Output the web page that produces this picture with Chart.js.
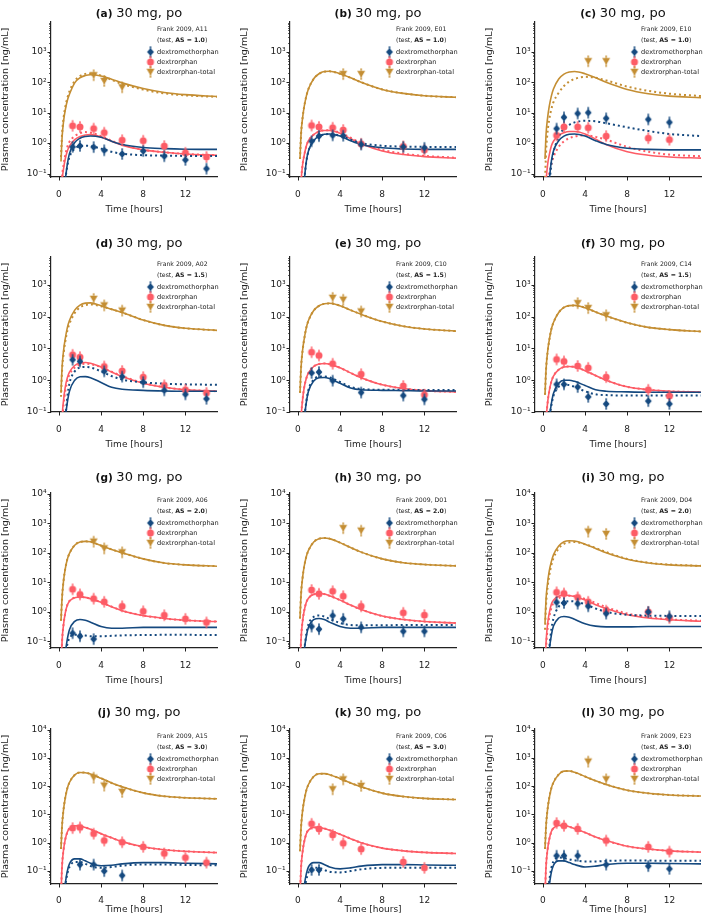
<!DOCTYPE html>
<html>
<head>
<meta charset="utf-8">
<script src="https://cdn.jsdelivr.net/npm/chart.js@4.4.1/dist/chart.umd.min.js"></script>
<style>
  html, body { margin: 0; padding: 0; background: #fff; }
  body { width: 709px; height: 918px; position: relative; overflow: hidden; }
  canvas { position: absolute; }
</style>
</head>
<body>
<script>
// panels and labels
const panelIds = ["a", "b", "c", "d", "e", "f", "g", "h", "i", "j", "k", "l"];
const subjectIds = ["A11", "E01", "E10", "A02", "C10", "C14", "A06", "D01", "D04", "A15", "C06", "E23"];
const activityScores = ["1.0", "1.0", "1.0", "1.5", "1.5", "1.5", "2.0", "2.0", "2.0", "3.0", "3.0", "3.0"];
const doseLabel = "30 mg, po";
const seriesNames = ["dextromethorphan", "dextrorphan", "dextrorphan-total"];

// axes
const xTickValues = [0, 4, 8, 12];
const yLimitsByRow = [[0.077, 9500], [0.1, 7500], [0.06, 10500], [0.035, 10500]];

// simulation time grid [h] and sampling times [h]
const simTime = [0.2, 0.3, 0.45, 0.6, 0.8, 1, 1.5, 2, 2.5, 3, 4, 5, 6, 8, 10, 12, 15];
const obsTime = [1.3, 2, 3.3, 4.3, 6, 8, 10, 12, 14];

// dextrorphan-total, model (solid) and alternative model (dotted), one row per panel
const totSim = [
    [0.25, 1.5, 5.5, 12, 25, 40, 95, 140, 165, 175, 160, 125, 95, 62, 46, 39, 34],
    [0.3, 2, 7, 16, 35, 60, 130, 190, 225, 230, 190, 140, 100, 58, 43, 36, 32],
    [0.3, 2, 7, 16, 35, 60, 128, 185, 218, 225, 190, 140, 100, 58, 42, 35, 31],
    [0.4, 2.5, 9, 20, 45, 75, 160, 230, 265, 270, 220, 170, 135, 78, 53, 43, 37],
    [0.4, 2.5, 9, 20, 45, 75, 155, 220, 255, 262, 220, 160, 118, 70, 50, 41, 35],
    [0.35, 2.2, 8, 18, 40, 65, 135, 195, 222, 225, 190, 140, 105, 64, 46, 39, 34],
    [0.5, 3, 12, 28, 60, 95, 180, 230, 242, 235, 175, 130, 100, 62, 45, 39, 35],
    [0.6, 4, 15, 35, 75, 120, 230, 300, 315, 300, 220, 150, 105, 62, 46, 40, 36],
    [0.4, 2.8, 10, 24, 50, 85, 170, 235, 255, 250, 195, 140, 100, 60, 45, 39, 36],
    [0.6, 4, 16, 38, 85, 135, 250, 305, 300, 270, 190, 130, 95, 58, 44, 39, 36],
    [0.5, 3.5, 14, 32, 72, 115, 220, 275, 278, 255, 185, 130, 95, 57, 43, 37, 34],
    [0.6, 4, 16, 38, 85, 135, 260, 340, 345, 310, 220, 155, 115, 72, 56, 49, 45]
];
const totAlt = [
    [0.35, 2, 7, 15, 30, 50, 110, 160, 188, 195, 165, 120, 88, 57, 43, 37, 33],
    [0.3, 2, 7, 16, 35, 60, 128, 188, 222, 228, 190, 140, 100, 58, 43, 36, 32],
    [0.05, 0.5, 2.5, 6, 13, 22, 45, 75, 105, 128, 150, 140, 115, 72, 52, 42, 35],
    [0.3, 2, 7, 16, 36, 60, 130, 195, 230, 242, 212, 170, 135, 78, 53, 43, 37],
    [0.4, 2.5, 9, 20, 45, 75, 155, 218, 252, 260, 220, 160, 118, 70, 50, 41, 35],
    [0.35, 2.2, 8, 18, 40, 65, 135, 195, 220, 224, 190, 140, 105, 64, 46, 39, 34],
    [0.5, 3, 12, 28, 60, 95, 182, 232, 243, 235, 175, 130, 100, 62, 45, 39, 35],
    [0.6, 4, 15, 35, 75, 120, 230, 300, 315, 300, 220, 150, 105, 62, 46, 40, 36],
    [0.25, 1.8, 7, 17, 38, 65, 140, 200, 225, 230, 195, 145, 105, 62, 46, 40, 36],
    [0.6, 4, 16, 38, 85, 135, 250, 305, 300, 270, 190, 130, 95, 58, 44, 39, 36],
    [0.5, 3.5, 14, 32, 72, 115, 220, 275, 278, 255, 185, 130, 95, 57, 43, 37, 34],
    [0.6, 4, 16, 38, 85, 135, 260, 340, 345, 310, 220, 155, 115, 72, 56, 49, 45]
];

// dextromethorphan
const dxmSim = [
    [0.001, 0.003, 0.02, 0.06, 0.2, 0.45, 1.05, 1.45, 1.65, 1.72, 1.55, 1.15, 0.9, 0.72, 0.66, 0.63, 0.62],
    [0.001, 0.003, 0.02, 0.06, 0.25, 0.55, 1.2, 1.7, 1.95, 2.0, 1.7, 1.2, 0.9, 0.7, 0.64, 0.62, 0.62],
    [0.001, 0.003, 0.02, 0.06, 0.25, 0.55, 1.2, 1.7, 1.95, 2.0, 1.7, 1.2, 0.9, 0.68, 0.62, 0.6, 0.6],
    [0.001, 0.003, 0.02, 0.06, 0.2, 0.45, 1.0, 1.28, 1.3, 1.2, 0.85, 0.6, 0.52, 0.48, 0.46, 0.45, 0.45],
    [0.001, 0.003, 0.02, 0.06, 0.2, 0.45, 0.95, 1.2, 1.22, 1.12, 0.8, 0.57, 0.5, 0.48, 0.47, 0.46, 0.46],
    [0.001, 0.003, 0.02, 0.06, 0.18, 0.38, 0.8, 1.0, 1.0, 0.92, 0.68, 0.5, 0.45, 0.43, 0.42, 0.42, 0.42],
    [0.001, 0.003, 0.015, 0.04, 0.12, 0.25, 0.48, 0.55, 0.52, 0.45, 0.32, 0.28, 0.28, 0.3, 0.3, 0.3, 0.3],
    [0.001, 0.003, 0.015, 0.05, 0.15, 0.3, 0.55, 0.6, 0.55, 0.45, 0.32, 0.28, 0.28, 0.3, 0.3, 0.3, 0.3],
    [0.001, 0.003, 0.015, 0.05, 0.16, 0.33, 0.62, 0.7, 0.66, 0.56, 0.4, 0.33, 0.31, 0.31, 0.32, 0.32, 0.32],
    [0.001, 0.003, 0.012, 0.035, 0.1, 0.18, 0.27, 0.27, 0.23, 0.19, 0.155, 0.16, 0.18, 0.2, 0.2, 0.19, 0.18],
    [0.001, 0.003, 0.01, 0.03, 0.08, 0.14, 0.2, 0.2, 0.17, 0.14, 0.12, 0.13, 0.15, 0.17, 0.17, 0.165, 0.16],
    [0.001, 0.003, 0.01, 0.03, 0.09, 0.16, 0.23, 0.23, 0.2, 0.17, 0.14, 0.15, 0.17, 0.19, 0.19, 0.185, 0.18]
];
const dxmAlt = [
    [0.001, 0.003, 0.02, 0.06, 0.18, 0.35, 0.65, 0.8, 0.82, 0.8, 0.66, 0.52, 0.45, 0.4, 0.39, 0.38, 0.38],
    [0.001, 0.003, 0.02, 0.06, 0.25, 0.55, 1.2, 1.68, 1.92, 1.98, 1.75, 1.3, 1.0, 0.82, 0.77, 0.75, 0.74],
    [0.001, 0.002, 0.01, 0.04, 0.2, 0.5, 1.6, 3.0, 4.0, 4.8, 5.4, 5.2, 4.5, 3.3, 2.5, 2.0, 1.7],
    [0.001, 0.003, 0.02, 0.06, 0.3, 0.8, 1.9, 2.5, 2.6, 2.5, 1.9, 1.35, 1.05, 0.85, 0.78, 0.74, 0.72],
    [0.001, 0.003, 0.02, 0.06, 0.22, 0.5, 1.05, 1.3, 1.32, 1.22, 0.88, 0.62, 0.53, 0.5, 0.5, 0.49, 0.49],
    [0.001, 0.003, 0.02, 0.06, 0.16, 0.32, 0.62, 0.72, 0.7, 0.62, 0.45, 0.36, 0.34, 0.33, 0.33, 0.33, 0.33],
    [0.001, 0.003, 0.01, 0.03, 0.08, 0.13, 0.17, 0.17, 0.16, 0.15, 0.15, 0.155, 0.16, 0.165, 0.167, 0.167, 0.165],
    [0.001, 0.003, 0.015, 0.05, 0.18, 0.38, 0.68, 0.76, 0.7, 0.58, 0.42, 0.36, 0.35, 0.35, 0.36, 0.36, 0.36],
    [0.001, 0.003, 0.02, 0.06, 0.25, 0.6, 1.5, 2.1, 2.3, 2.25, 1.8, 1.3, 1.0, 0.8, 0.75, 0.73, 0.72],
    [0.001, 0.003, 0.01, 0.03, 0.08, 0.14, 0.21, 0.21, 0.18, 0.15, 0.13, 0.14, 0.155, 0.17, 0.17, 0.165, 0.16],
    [0.001, 0.002, 0.008, 0.02, 0.05, 0.09, 0.13, 0.13, 0.11, 0.095, 0.09, 0.1, 0.115, 0.13, 0.13, 0.13, 0.13],
    [0.001, 0.003, 0.015, 0.045, 0.13, 0.22, 0.3, 0.29, 0.26, 0.24, 0.22, 0.22, 0.23, 0.235, 0.235, 0.23, 0.23]
];

// dextrorphan
const dxrSim = [
    [0.005, 0.05, 0.15, 0.3, 0.55, 0.8, 1.3, 1.65, 1.85, 1.9, 1.6, 1.15, 0.85, 0.6, 0.5, 0.44, 0.4],
    [0.005, 0.05, 0.2, 0.4, 0.8, 1.2, 1.9, 2.4, 2.6, 2.6, 2.1, 1.4, 0.95, 0.55, 0.42, 0.36, 0.32],
    [0.005, 0.05, 0.2, 0.4, 0.8, 1.15, 1.8, 2.2, 2.4, 2.4, 2.0, 1.35, 0.9, 0.52, 0.4, 0.35, 0.32],
    [0.005, 0.06, 0.25, 0.6, 1.2, 1.8, 2.9, 3.5, 3.6, 3.4, 2.6, 1.8, 1.3, 0.8, 0.6, 0.5, 0.45],
    [0.005, 0.06, 0.25, 0.6, 1.15, 1.7, 2.7, 3.25, 3.35, 3.2, 2.45, 1.7, 1.2, 0.72, 0.55, 0.47, 0.43],
    [0.005, 0.05, 0.2, 0.45, 0.9, 1.35, 2.15, 2.6, 2.7, 2.6, 2.0, 1.4, 1.0, 0.62, 0.5, 0.45, 0.42],
    [0.01, 0.1, 0.4, 0.9, 1.7, 2.3, 3.0, 3.2, 3.1, 2.8, 2.1, 1.5, 1.1, 0.75, 0.6, 0.52, 0.47],
    [0.01, 0.12, 0.5, 1.1, 2.1, 2.9, 3.9, 4.2, 4.0, 3.5, 2.5, 1.7, 1.2, 0.72, 0.55, 0.47, 0.42],
    [0.008, 0.09, 0.4, 0.9, 1.8, 2.5, 3.4, 3.7, 3.6, 3.3, 2.5, 1.75, 1.3, 0.8, 0.62, 0.54, 0.48],
    [0.015, 0.15, 0.6, 1.3, 2.4, 3.2, 4.0, 3.9, 3.5, 3.0, 2.1, 1.5, 1.1, 0.72, 0.57, 0.5, 0.45],
    [0.012, 0.13, 0.5, 1.1, 2.1, 2.8, 3.5, 3.5, 3.2, 2.8, 2.0, 1.4, 1.0, 0.65, 0.52, 0.46, 0.42],
    [0.015, 0.15, 0.6, 1.3, 2.5, 3.3, 4.1, 4.1, 3.7, 3.2, 2.3, 1.6, 1.2, 0.75, 0.6, 0.52, 0.47]
];
const dxrAlt = [
    [0.008, 0.07, 0.2, 0.4, 0.75, 1.1, 1.7, 2.1, 2.3, 2.2, 1.7, 1.2, 0.9, 0.6, 0.5, 0.44, 0.4],
    [0.005, 0.05, 0.2, 0.4, 0.8, 1.2, 1.9, 2.4, 2.65, 2.65, 2.2, 1.5, 1.0, 0.6, 0.45, 0.38, 0.33],
    [0.001, 0.01, 0.05, 0.1, 0.2, 0.35, 0.75, 1.15, 1.45, 1.65, 1.8, 1.6, 1.3, 0.75, 0.52, 0.42, 0.37],
    [0.004, 0.04, 0.18, 0.45, 0.95, 1.5, 2.5, 3.1, 3.3, 3.2, 2.6, 1.85, 1.35, 0.82, 0.6, 0.5, 0.45],
    [0.005, 0.06, 0.25, 0.6, 1.15, 1.7, 2.7, 3.25, 3.35, 3.2, 2.45, 1.7, 1.2, 0.72, 0.55, 0.47, 0.43],
    [0.005, 0.05, 0.2, 0.45, 0.9, 1.35, 2.15, 2.6, 2.7, 2.6, 2.0, 1.4, 1.0, 0.62, 0.5, 0.45, 0.42],
    [0.01, 0.1, 0.4, 0.9, 1.7, 2.35, 3.05, 3.2, 3.1, 2.8, 2.1, 1.5, 1.1, 0.75, 0.6, 0.52, 0.47],
    [0.01, 0.12, 0.5, 1.1, 2.1, 2.9, 3.9, 4.2, 4.0, 3.5, 2.5, 1.7, 1.2, 0.72, 0.55, 0.47, 0.42],
    [0.005, 0.06, 0.28, 0.65, 1.35, 2.0, 2.9, 3.4, 3.5, 3.4, 2.75, 2.0, 1.45, 0.88, 0.66, 0.56, 0.5],
    [0.015, 0.15, 0.6, 1.3, 2.4, 3.2, 4.0, 3.9, 3.5, 3.0, 2.1, 1.5, 1.1, 0.72, 0.57, 0.5, 0.45],
    [0.012, 0.13, 0.5, 1.1, 2.1, 2.8, 3.5, 3.5, 3.2, 2.8, 2.0, 1.4, 1.0, 0.65, 0.52, 0.46, 0.42],
    [0.015, 0.15, 0.6, 1.3, 2.5, 3.3, 4.1, 4.1, 3.7, 3.2, 2.3, 1.6, 1.2, 0.75, 0.6, 0.52, 0.47]
];

// measured concentrations at obsTime (null = not measured)
const dxmObs = [
    [0.75, 0.81, 0.74, 0.58, 0.44, 0.55, 0.37, 0.28, 0.145],
    [1.15, 1.7, 1.8, 1.75, 0.9, null, 0.75, 0.7, null],
    [3.0, 7.0, 9.4, 10, 6.5, null, 6.0, 4.8, null],
    [4.4, 3.9, null, 1.9, 1.3, 0.87, 0.48, 0.36, 0.26],
    [1.7, 1.8, 0.97, null, 0.41, null, 0.33, 0.25, null],
    [0.74, 0.74, 0.61, 0.3, 0.18, null, 0.22, 0.18, null],
    [0.19, 0.15, 0.12, null, null, null, null, null, null],
    [0.32, 0.26, 0.75, 0.58, 0.3, null, 0.22, 0.22, null],
    [2.1, 2.0, 1.9, 1.55, 0.88, null, 1.0, 0.71, null],
    [null, 0.17, 0.17, 0.1, 0.07, null, null, null, null],
    [0.11, 0.11, null, null, null, null, null, null, null],
    [0.35, 0.35, 0.35, null, 0.17, null, 0.15, 0.12, null]
];
const dxrObs = [
    [3.7, 3.4, 3.0, 2.2, 1.25, 1.2, 0.8, 0.48, 0.35],
    [3.8, 3.4, 3.2, 2.7, 0.95, null, 0.78, 0.6, null],
    [1.8, 3.4, 3.4, 3.2, 1.7, null, 1.45, 1.3, null],
    [6.3, 5.3, null, 2.7, 1.95, 1.25, 0.69, 0.5, 0.4],
    [7.6, 6.0, 3.3, null, 1.55, null, 0.66, 0.35, null],
    [4.5, 3.9, 2.8, 2.45, 1.25, null, 0.5, 0.32, null],
    [5.8, 3.9, 2.8, 2.2, 1.55, 1.05, 0.77, 0.58, 0.44],
    [5.5, 4.1, 5.0, 3.4, 1.55, null, 0.93, 0.78, null],
    [4.6, 4.2, 3.1, 2.2, 1.1, null, 1.0, 0.62, null],
    [3.3, 3.5, 2.1, 1.2, 1.05, 0.72, 0.42, 0.3, 0.2],
    [4.7, 3.1, 1.9, 0.96, 0.6, null, 0.21, 0.13, null],
    [5.0, 4.0, 3.1, null, 1.2, null, 0.72, 0.49, null]
];
const totObs = [
    [null, null, 170, 110, 68, null, null, null, null],
    [null, null, null, 185, 185, null, null, null, null],
    [null, null, null, 490, 490, null, null, null, null],
    [null, null, 360, 225, 155, null, null, null, null],
    [null, null, 390, 340, 145, null, null, null, null],
    [null, null, 265, 185, 110, null, null, null, null],
    [null, null, 237, 140, 103, null, null, null, null],
    [null, null, null, 680, 560, null, null, null, null],
    [null, null, null, 520, 435, null, null, null, null],
    [null, null, 200, 105, 63, null, null, null, null],
    [null, null, 78, 175, 103, null, null, null, null],
    [null, null, null, 740, 175, null, null, null, null]
];

// layout
const FONT = '"DejaVu Sans", sans-serif';
const INK = "#222";
const colLeft = [0, 239, 484];
const rowTop = [-8, 227, 463, 699];
const titleBaseline = [24.7, 19.6, 18, 17];
const xAxisHeight = [38, 38, 38, 31];
const COLORS = { dxm: "#15497f", dxr: "#fd5c66", tot: "#c48e33" };

const supChars = { "-": "\u207B", "0": "\u2070", "1": "\u00B9", "2": "\u00B2", "3": "\u00B3", "4": "\u2074" };
const isDecade = v => Math.abs(Math.log10(v) - Math.round(Math.log10(v))) < 1e-6;
const decadeLabel = v => "10" + String(Math.round(Math.log10(v))).split("").map(c => supChars[c]).join("");

// marker sprites with a small error-bar whisker
function makeMarker(shape, color) {
    const c = document.createElement("canvas");
    c.width = 12;
    c.height = 14;
    const g = c.getContext("2d");
    g.fillStyle = color;
    g.strokeStyle = color;
    g.lineWidth = 1;
    g.beginPath();
    g.moveTo(6, 2); g.lineTo(6, 12);
    g.moveTo(5, 2); g.lineTo(7, 2);
    g.moveTo(5, 12); g.lineTo(7, 12);
    g.stroke();
    g.beginPath();
    if (shape === "diamond") {
        g.moveTo(6, 3); g.lineTo(9.4, 7); g.lineTo(6, 11); g.lineTo(2.6, 7); g.closePath();
    } else if (shape === "circle") {
        g.arc(6, 7, 3.5, 0, Math.PI * 2);
    } else {
        g.moveTo(2, 3.8); g.lineTo(10, 3.8); g.lineTo(6, 10.6); g.closePath();
    }
    g.fill();
    return c;
}
const markers = {
    dxm: makeMarker("diamond", COLORS.dxm),
    dxr: makeMarker("circle", COLORS.dxr),
    tot: makeMarker("triangle", COLORS.tot)
};

function curve(values, color, dotted) {
    return {
        data: simTime.map((t, i) => ({ x: t, y: values[i] })),
        showLine: true,
        borderColor: color,
        borderWidth: dotted ? 2 : 1.6,
        borderDash: dotted ? [2, 3] : [],
        pointRadius: 0,
        cubicInterpolationMode: "monotone",
        fill: false,
        order: 2
    };
}

function observed(values, key) {
    const pts = [];
    obsTime.forEach((t, i) => { if (values[i] !== null) pts.push({ x: t, y: values[i] }); });
    return {
        data: pts,
        showLine: false,
        pointStyle: markers[key],
        pointRadius: 4,
        order: 1
    };
}

const panelDecor = {
    id: "panelDecor",
    afterDraw(chart, args, opts) {
        const { ctx, chartArea: a, scales: { x, y } } = chart;
        ctx.save();

        // tick marks
        ctx.strokeStyle = INK;
        y.ticks.forEach(t => {
            const major = isDecade(t.value);
            const py = Math.round(y.getPixelForValue(t.value)) + 0.5;
            ctx.lineWidth = major ? 1 : 0.7;
            ctx.beginPath();
            ctx.moveTo(a.left - (major ? 3.5 : 2), py);
            ctx.lineTo(a.left, py);
            ctx.stroke();
        });
        x.ticks.forEach(t => {
            const px = Math.round(x.getPixelForValue(t.value)) + 0.5;
            ctx.lineWidth = 1;
            ctx.beginPath();
            ctx.moveTo(px, a.bottom);
            ctx.lineTo(px, a.bottom + 3.5);
            ctx.stroke();
        });

        // title: bold panel letter + dose
        ctx.fillStyle = "#111";
        ctx.textBaseline = "alphabetic";
        const tag = "(" + opts.id + ") ";
        ctx.font = "bold 10.5px " + FONT;
        const w1 = ctx.measureText(tag).width;
        ctx.font = "13px " + FONT;
        const w2 = ctx.measureText(doseLabel).width;
        const tx = (a.left + a.right) / 2 + 5 - (w1 + w2) / 2;
        ctx.font = "bold 10.5px " + FONT;
        ctx.fillText(tag, tx, opts.titleY);
        ctx.font = "13px " + FONT;
        ctx.fillText(doseLabel, tx + w1, opts.titleY);

        // legend block
        const lx = a.right - 60;
        const mx = a.right - 66.5;
        ctx.fillStyle = INK;
        ctx.textBaseline = "middle";
        ctx.font = "6.2px " + FONT;
        ctx.fillText("Frank 2009, " + opts.subject, lx, a.top + 7);
        let hx = lx;
        const hy = a.top + 18;
        ctx.fillText("(test, ", hx, hy);
        hx += ctx.measureText("(test, ").width;
        ctx.font = "bold 6.2px " + FONT;
        const asText = "AS = " + opts.score;
        ctx.fillText(asText, hx, hy);
        hx += ctx.measureText(asText).width;
        ctx.font = "6.2px " + FONT;
        ctx.fillText(")", hx, hy);

        ctx.font = "6.6px " + FONT;
        ["dxm", "dxr", "tot"].forEach((key, i) => {
            const ey = a.top + 30 + i * 10;
            const m = markers[key];
            ctx.drawImage(m, mx - m.width / 2, ey - m.height / 2);
            ctx.fillText(seriesNames[i], lx, ey);
        });
        ctx.restore();
    }
};

panelIds.forEach((id, p) => {
    const row = Math.floor(p / 3);
    const col = p % 3;
    const cv = document.createElement("canvas");
    cv.width = 225;
    cv.height = 225;
    cv.style.left = colLeft[col] + "px";
    cv.style.top = rowTop[row] + "px";
    document.body.appendChild(cv);

    new Chart(cv, {
        type: "scatter",
        data: {
            datasets: [
                observed(dxmObs[p], "dxm"),
                observed(dxrObs[p], "dxr"),
                observed(totObs[p], "tot"),
                curve(dxmAlt[p], COLORS.dxm, true),
                curve(dxmSim[p], COLORS.dxm, false),
                curve(dxrAlt[p], COLORS.dxr, true),
                curve(dxrSim[p], COLORS.dxr, false),
                curve(totAlt[p], COLORS.tot, true),
                curve(totSim[p], COLORS.tot, false)
            ]
        },
        options: {
            responsive: false,
            animation: false,
            devicePixelRatio: 1,
            events: [],
            layout: { padding: { top: 30, right: 8, bottom: 40 - xAxisHeight[row], left: 0 } },
            plugins: {
                legend: { display: false },
                tooltip: { enabled: false },
                panelDecor: {
                    id: id,
                    subject: subjectIds[p],
                    score: activityScores[p],
                    titleY: titleBaseline[row]
                }
            },
            scales: {
                x: {
                    type: "linear",
                    min: -0.75,
                    max: 15,
                    grid: { display: false, drawTicks: false },
                    border: { display: true, color: INK, width: 1.2 },
                    ticks: {
                        color: INK,
                        font: { family: FONT, size: 9 },
                        padding: row === 3 ? 11 : 12,
                        autoSkip: false,
                        maxRotation: 0
                    },
                    afterBuildTicks: scale => { scale.ticks = xTickValues.map(v => ({ value: v })); },
                    afterFit: scale => { scale.height = xAxisHeight[row]; },
                    title: {
                        display: true,
                        text: "Time [hours]",
                        color: INK,
                        font: { family: FONT, size: 9 },
                        padding: 0
                    }
                },
                y: {
                    type: "logarithmic",
                    min: yLimitsByRow[row][0],
                    max: yLimitsByRow[row][1],
                    grid: { display: false, drawTicks: false },
                    border: { display: true, color: INK, width: 1.2 },
                    ticks: {
                        color: INK,
                        font: { family: FONT, size: 9 },
                        padding: 4.5,
                        autoSkip: false,
                        callback: v => isDecade(v) ? decadeLabel(v) : ""
                    },
                    afterBuildTicks: scale => {
                        const ticks = [];
                        for (let e = -2; e <= 4; e++) {
                            for (let k = 1; k <= 9; k++) {
                                const v = k * Math.pow(10, e);
                                if (v >= scale.min * 0.9999 && v <= scale.max) ticks.push({ value: v });
                            }
                        }
                        scale.ticks = ticks;
                    },
                    afterFit: scale => { scale.width = 51; },
                    title: {
                        display: true,
                        text: "Plasma concentration [ng/mL]",
                        color: INK,
                        font: { family: FONT, size: 9.5 },
                        padding: 0
                    }
                }
            }
        },
        plugins: [panelDecor]
    });
});
</script>
</body>
</html>
